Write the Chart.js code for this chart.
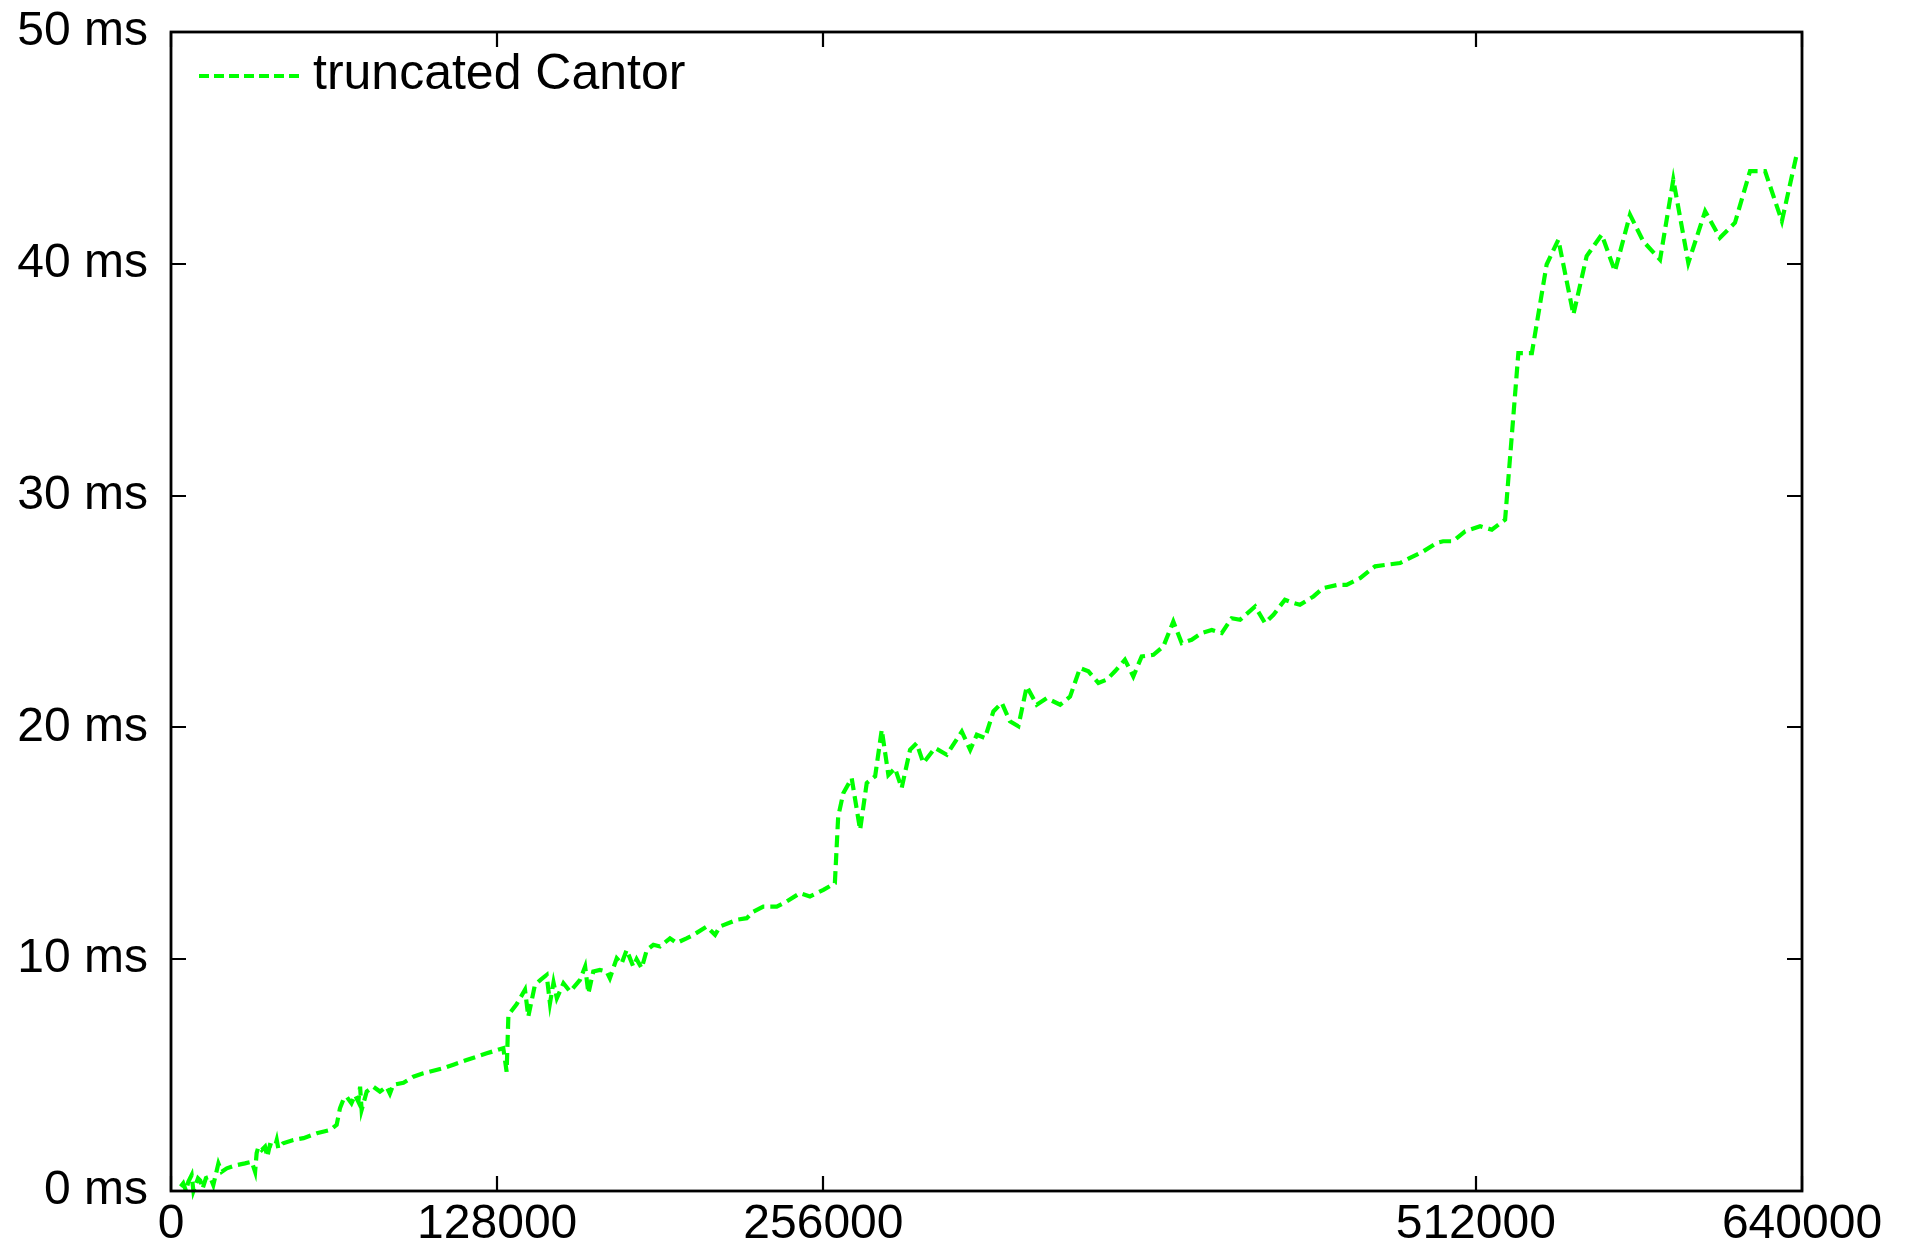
<!DOCTYPE html>
<html>
<head>
<meta charset="utf-8">
<script src="https://cdn.jsdelivr.net/npm/chart.js@4.4.1/dist/chart.umd.min.js"></script>
<style>
html,body{margin:0;padding:0;background:#ffffff;}
#wrap{width:1906px;height:1243px;position:relative;}
</style>
</head>
<body>
<div id="wrap"><canvas id="c" width="1906" height="1243"></canvas></div>
<script>
// ---- data ----
const seriesLabel = 'truncated Cantor';
const xValues = [3800,4800,5900,6800,8100,8800,10600,11500,12400,13700,15300,16600,18600,19900,21900,25800,29000,31700,33000,33600,34300,35600,36900,37800,38800,40800,41500,42100,44000,48000,52000,57200,62400,65000,66300,67600,68900,70800,72200,73500,74200,74800,76800,79400,82000,84600,85900,87200,91200,95100,99000,106900,110800,116000,123900,130400,131700,132400,135600,138900,140200,142800,145000,147400,148700,150100,151400,154000,156600,160500,162500,163800,165700,168300,170900,172200,174900,176800,178800,181400,182700,184700,186700,189300,191900,195800,198400,202300,205000,210200,213500,215400,222000,225900,228500,232400,237700,241600,246800,250700,256000,260500,261800,263800,267100,270400,273000,276300,278900,281500,284100,286700,290000,292600,295200,299800,304400,310300,313600,316200,319400,322700,326000,329200,332500,335800,339700,343600,348900,352800,356700,360000,363900,367200,370400,374300,377600,380900,385500,389400,393300,396600,400500,404400,408400,412300,416200,419500,425400,429300,432600,437100,440400,443000,448300,452100,457900,461300,466600,472500,477100,482300,486200,491500,496600,499200,503100,507800,513700,518300,523500,528700,534000,539800,544400,550300,555500,561400,566600,572500,577700,584300,589500,595400,602000,607800,613700,619600,625500,632100,637900];
const yValues = [0.19,0.33,0.0,0.4,0.69,0.0,0.55,0.45,0.1,0.56,0.62,0.26,1.19,0.83,0.98,1.12,1.19,1.26,0.83,1.63,1.91,1.77,1.91,1.48,1.98,1.91,2.2,1.84,2.06,2.2,2.28,2.49,2.63,2.85,3.57,3.93,4.07,3.78,4.14,3.85,4.5,3.5,4.29,4.5,4.29,4.5,4.2,4.58,4.67,4.93,5.08,5.3,5.45,5.65,5.94,6.16,5.15,7.6,8.05,8.68,7.52,8.89,9.11,9.32,8.1,9.0,8.32,8.96,8.6,9.11,9.68,8.53,9.47,9.54,9.47,9.18,10.04,9.8,10.4,9.68,10.0,9.61,10.4,10.62,10.55,10.9,10.7,10.9,11.05,11.41,11.05,11.41,11.7,11.77,12.05,12.27,12.27,12.49,12.85,12.71,12.99,13.28,16.15,17.16,17.81,15.58,17.6,17.89,19.9,17.95,18.24,17.38,19.03,19.32,18.46,19.11,18.82,19.82,19.03,19.68,19.54,20.69,21.06,20.26,20.05,21.77,20.98,21.26,20.98,21.33,22.56,22.42,21.92,22.06,22.42,22.92,22.2,23.06,23.13,23.49,24.57,23.64,23.78,24.07,24.2,24.07,24.71,24.64,25.22,24.5,24.86,25.51,25.37,25.29,25.65,26.01,26.15,26.15,26.44,26.95,27.02,27.09,27.31,27.6,27.96,28.03,28.03,28.46,28.68,28.53,28.96,36.15,36.15,39.97,41.04,37.81,40.33,41.26,39.68,42.12,40.97,40.18,43.63,40.04,42.27,41.12,41.77,44.0,44.0,41.84,44.71];
const xTickValues = [0,128000,256000,512000,640000];
const yTickValues = [0,10,20,30,40,50];
const yTickSuffix = ' ms';

const FONT = '"Liberation Sans", Arial, Helvetica, sans-serif';
const LINE_COLOR = '#00ff00';
const LINE_DASH = [12,6];

const points = xValues.map((x,i) => ({x: x, y: yValues[i]}));

const framePlugin = {
  id: 'gnuplotFrame',
  afterDatasetsDraw(chart) {
    const ctx = chart.ctx;
    const a = chart.chartArea;
    const xs = chart.scales.x, ys = chart.scales.y;
    ctx.save();
    ctx.setLineDash([]);
    ctx.strokeStyle = '#000000';
    ctx.lineWidth = 2.2;
    ctx.beginPath();
    xTickValues.forEach(v => {
      const px = Math.round(xs.getPixelForValue(v));
      ctx.moveTo(px, a.bottom); ctx.lineTo(px, a.bottom - 15);
      ctx.moveTo(px, a.top); ctx.lineTo(px, a.top + 15);
    });
    yTickValues.forEach(v => {
      const py = Math.round(ys.getPixelForValue(v));
      ctx.moveTo(a.left, py); ctx.lineTo(a.left + 15, py);
      ctx.moveTo(a.right, py); ctx.lineTo(a.right - 15, py);
    });
    ctx.stroke();
    ctx.lineWidth = 2.8;
    ctx.strokeRect(a.left, a.top, a.right - a.left, a.bottom - a.top);

    // key (legend) inside the plot, top-left
    const ds = chart.data.datasets[0];
    const lx0 = a.left + 28, lx1 = a.left + 129, ly = a.top + 44;
    ctx.beginPath();
    ctx.strokeStyle = ds.borderColor;
    ctx.lineWidth = ds.borderWidth;
    ctx.setLineDash([10,5]);
    ctx.moveTo(lx0, ly); ctx.lineTo(lx1, ly);
    ctx.stroke();
    ctx.setLineDash([]);
    ctx.fillStyle = '#000000';
    ctx.font = '50px ' + FONT;
    ctx.textBaseline = 'alphabetic';
    ctx.textAlign = 'left';
    ctx.fillText(ds.label, a.left + 142, a.top + 57);
    ctx.restore();
  }
};

new Chart(document.getElementById('c'), {
  type: 'line',
  data: {
    datasets: [{
      label: seriesLabel,
      data: points,
      borderColor: LINE_COLOR,
      backgroundColor: LINE_COLOR,
      borderWidth: 4.2,
      borderDash: LINE_DASH,
      borderJoinStyle: 'miter',
      borderCapStyle: 'butt',
      pointRadius: 0,
      pointHoverRadius: 0,
      tension: 0,
      fill: false,
      clip: false
    }]
  },
  options: {
    responsive: false,
    animation: false,
    devicePixelRatio: 1,
    events: [],
    layout: { padding: { top: 32, right: 104, left: 0, bottom: 0 } },
    plugins: {
      legend: { display: false },
      tooltip: { enabled: false },
      title: { display: false }
    },
    scales: {
      x: {
        type: 'linear',
        min: 0,
        max: 640000,
        grid: { display: false, drawTicks: false },
        border: { display: false },
        afterBuildTicks: (scale) => { scale.ticks = xTickValues.map(v => ({ value: v })); },
        afterFit: (scale) => { scale.height = 52; scale.paddingLeft = 0; scale.paddingRight = 0; },
        ticks: {
          autoSkip: false,
          maxRotation: 0,
          minRotation: 0,
          padding: 5,
          color: '#000000',
          font: { family: FONT, size: 48 },
          callback: (v) => String(v)
        }
      },
      y: {
        type: 'linear',
        min: 0,
        max: 50,
        grid: { display: false, drawTicks: false },
        border: { display: false },
        afterBuildTicks: (scale) => { scale.ticks = yTickValues.map(v => ({ value: v })); },
        afterFit: (scale) => { scale.width = 171; scale.paddingTop = 0; scale.paddingBottom = 0; },
        ticks: {
          autoSkip: false,
          padding: 23,
          color: '#000000',
          font: { family: FONT, size: 48 },
          callback: (v) => v + yTickSuffix
        }
      }
    }
  },
  plugins: [framePlugin]
});
</script>
</body>
</html>
